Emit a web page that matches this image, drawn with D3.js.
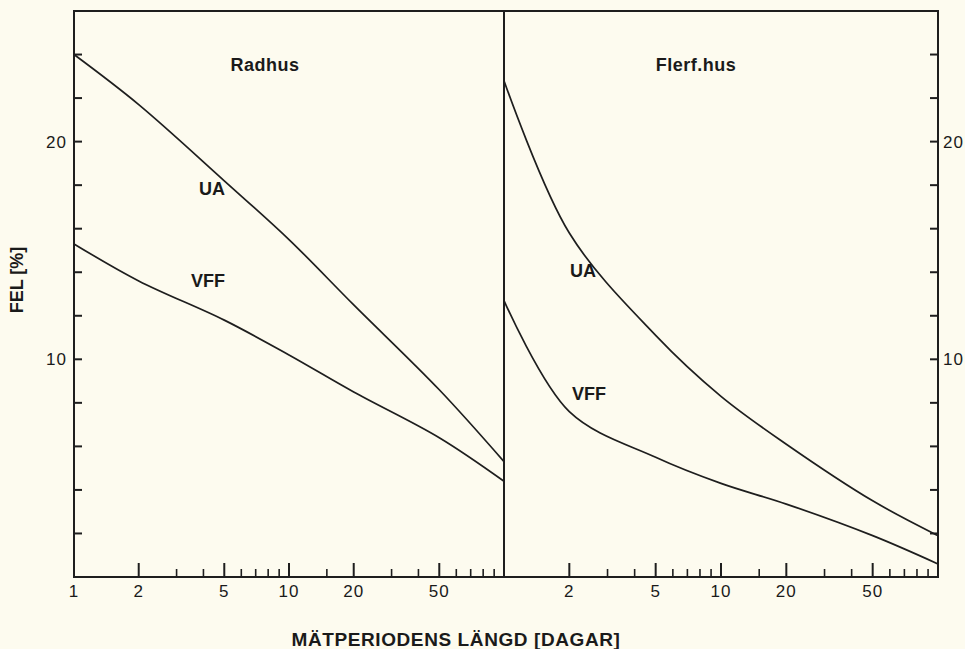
<!DOCTYPE html>
<html>
<head>
<meta charset="utf-8">
<script src="https://cdnjs.cloudflare.com/ajax/libs/d3/7.8.5/d3.min.js"></script>
<style>
    body { margin: 0; background: #fdfbef; }
    svg { display: block; font-family: "Liberation Sans", Arial, sans-serif; }
    .lbl { font-size: 18px; fill: #1a1a1a; }
    .tick { font-size: 17px; letter-spacing: 1px; fill: #1a1a1a; }
    .bold { font-weight: bold; }
</style>
</head>
<body>
<div id="container"></div>
<script>
var days = [1, 2, 5, 10, 20, 50, 100];
var radhusUA = [24.0, 21.7, 18.2, 15.5, 12.5, 8.6, 5.3];
var radhusVFF = [15.3, 13.6, 11.8, 10.2, 8.5, 6.4, 4.4];
var flerfUA = [22.8, 15.8, 11.1, 8.3, 6.1, 3.5, 1.9];
var flerfVFF = [12.7, 7.6, 5.5, 4.3, 3.35, 1.9, 0.6];

var xTicksMajor = [2, 5, 10, 20, 50];
var xTicksMinor = [3, 4, 6, 7, 8, 9, 15, 30, 40, 60, 70, 80, 90];
var yTicks = [2, 4, 6, 8, 10, 12, 14, 16, 18, 20, 22, 24];
var yLabels = [10, 20];

var panels = [
    { name: "Radhus", ua: radhusUA, vff: radhusVFF, left: 74, right: 504, titleX: 265,
      uaLabel: [212, 195], vffLabel: [208, 287], firstLabel: true },
    { name: "Flerf.hus", ua: flerfUA, vff: flerfVFF, left: 504, right: 938, titleX: 696,
      uaLabel: [583, 277], vffLabel: [589, 400], firstLabel: false }
];

var width = 965, height = 649;
var plotTop = 11, plotBottom = 577;
var ink = "#1e1e1e";

var svg = d3.select("#container").append("svg")
    .attr("width", width)
    .attr("height", height);

var y = d3.scaleLinear().domain([0, 26]).range([plotBottom, plotTop]);

// outer frame
svg.append("rect")
    .attr("x", 74).attr("y", plotTop)
    .attr("width", 938 - 74).attr("height", plotBottom - plotTop)
    .attr("fill", "none").attr("stroke", ink).attr("stroke-width", 2);

panels.forEach(function(p) {
    var x = d3.scaleLog().domain([1, 100]).range([p.left, p.right]);
    var g = svg.append("g");

    // x ticks pointing inward
    g.selectAll(".xmaj").data(xTicksMajor).enter().append("line")
        .attr("x1", function(d) { return x(d); })
        .attr("x2", function(d) { return x(d); })
        .attr("y1", plotBottom).attr("y2", plotBottom - 14)
        .attr("stroke", ink).attr("stroke-width", 2);
    g.selectAll(".xmin").data(xTicksMinor).enter().append("line")
        .attr("x1", function(d) { return x(d); })
        .attr("x2", function(d) { return x(d); })
        .attr("y1", plotBottom).attr("y2", plotBottom - 8)
        .attr("stroke", ink).attr("stroke-width", 1.6);

    var labs = p.firstLabel ? [1].concat(xTicksMajor) : xTicksMajor;
    g.selectAll(".xl").data(labs).enter().append("text")
        .attr("class", "tick")
        .attr("x", function(d) { return x(d); })
        .attr("y", 597)
        .attr("text-anchor", "middle")
        .text(function(d) { return d; });

    var line = d3.line()
        .x(function(d, i) { return x(days[i]); })
        .y(function(d) { return y(d); })
        .curve(d3.curveCatmullRom.alpha(0.5));

    [p.ua, p.vff].forEach(function(s) {
        g.append("path")
            .datum(s)
            .attr("d", line)
            .attr("fill", "none")
            .attr("stroke", ink)
            .attr("stroke-width", 1.7);
    });

    g.append("text").attr("class", "lbl bold")
        .attr("x", p.titleX).attr("y", 71)
        .attr("text-anchor", "middle")
        .style("letter-spacing", "0.5px")
        .text(p.name);
    g.append("text").attr("class", "lbl bold")
        .attr("x", p.uaLabel[0]).attr("y", p.uaLabel[1])
        .attr("text-anchor", "middle")
        .text("UA");
    g.append("text").attr("class", "lbl bold")
        .attr("x", p.vffLabel[0]).attr("y", p.vffLabel[1])
        .attr("text-anchor", "middle")
        .text("VFF");
});

// divider between panels
svg.append("line")
    .attr("x1", 504).attr("x2", 504)
    .attr("y1", plotTop).attr("y2", plotBottom)
    .attr("stroke", ink).attr("stroke-width", 2);

// y ticks on both outer sides
svg.selectAll(".ytl").data(yTicks).enter().append("line")
    .attr("x1", 74).attr("x2", 82)
    .attr("y1", function(d) { return y(d); })
    .attr("y2", function(d) { return y(d); })
    .attr("stroke", ink).attr("stroke-width", 2);
svg.selectAll(".ytr").data(yTicks).enter().append("line")
    .attr("x1", 930).attr("x2", 938)
    .attr("y1", function(d) { return y(d); })
    .attr("y2", function(d) { return y(d); })
    .attr("stroke", ink).attr("stroke-width", 2);

svg.selectAll(".yll").data(yLabels).enter().append("text")
    .attr("class", "tick")
    .attr("x", 67)
    .attr("y", function(d) { return y(d) + 6; })
    .attr("text-anchor", "end")
    .text(function(d) { return d; });
svg.selectAll(".ylr").data(yLabels).enter().append("text")
    .attr("class", "tick")
    .attr("x", 943)
    .attr("y", function(d) { return y(d) + 6; })
    .text(function(d) { return d; });

// axis titles
svg.append("text").attr("class", "lbl bold")
    .attr("transform", "translate(23,280) rotate(-90)")
    .attr("text-anchor", "middle")
    .text("FEL [%]");
svg.append("text").attr("class", "lbl bold")
    .attr("x", 456).attr("y", 646)
    .attr("text-anchor", "middle")
    .style("font-size", "19px")
    .style("letter-spacing", "0.6px")
    .text("MÄTPERIODENS LÄNGD [DAGAR]");
</script>
</body>
</html>
